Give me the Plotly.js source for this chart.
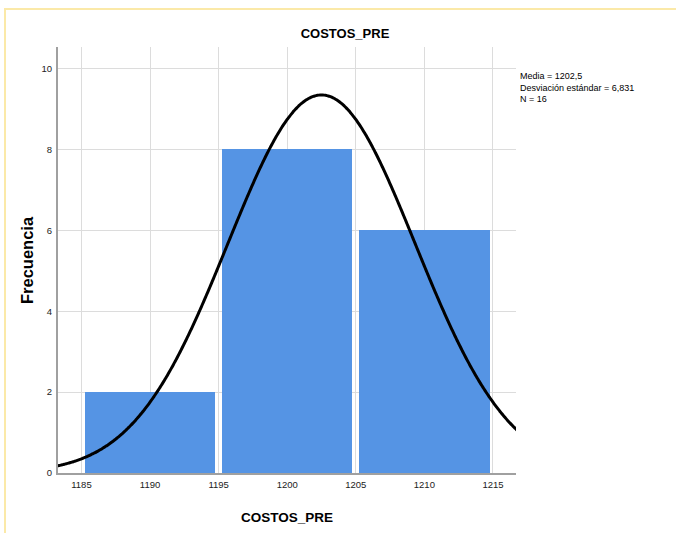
<!DOCTYPE html>
<html>
<head>
<meta charset="utf-8">
<script src="https://cdn.plot.ly/plotly-3.0.1.min.js"></script>
<style>
  html, body { margin: 0; padding: 0; background: #fff; }
  #frame { position: absolute; left: 4px; top: 8px; width: 700px; height: 600px;
           border-top: 2px solid #fbe9a8; border-left: 2px solid #fbe9a8; pointer-events: none; z-index: 5; }
  #chart { width: 676px; height: 533px; }
</style>
</head>
<body>
<div id="chart"></div>
<div id="frame"></div>
<script>
// Data
const binStarts = [1185, 1195, 1205];
const binWidth = 10;
const frequencies = [2, 8, 6];
const xTickVals = [1185, 1190, 1195, 1200, 1205, 1210, 1215];
const yTickVals = [0, 2, 4, 6, 8, 10];
const meanValue = 1202.5;
const stdDev = 6.831;
const nCount = 16;
const statsLines = ["Media = 1202,5", "Desviación estándar = 6,831", "N = 16"];
const chartTitle = "COSTOS_PRE";
const xTitle = "COSTOS_PRE";
const yTitle = "Frecuencia";

const binCenters = binStarts.map(s => s + binWidth / 2);

// Normal curve from the reported statistics
const curveX = [];
const curveY = [];
for (let x = 1180; x <= 1220.001; x += 0.1) {
  const z = (x - meanValue) / stdDev;
  curveX.push(x);
  curveY.push(nCount * binWidth * Math.exp(-0.5 * z * z) / (stdDev * Math.sqrt(2 * Math.PI)));
}

const traces = [
  {
    type: 'bar', x: binCenters, y: frequencies, width: binWidth * 0.95,
    marker: { color: 'rgb(85,148,228)', line: { width: 0 } },
    hoverinfo: 'x+y', showlegend: false
  },
  {
    type: 'scatter', mode: 'lines', x: curveX, y: curveY,
    line: { color: '#000', width: 3, shape: 'spline' },
    hoverinfo: 'skip', showlegend: false, cliponaxis: true
  }
];

const font = '"Liberation Sans", Arial, sans-serif';
const W = 676, H = 533;

const layout = {
  width: W, height: H,
  margin: { l: 58, r: 160, t: 47, b: 60, pad: 0 },
  paper_bgcolor: '#fff', plot_bgcolor: '#fff',
  bargap: 0,
  title: {
    text: '<b>' + chartTitle + '</b>', x: 345 / W, xref: 'container', xanchor: 'center',
    y: 1 - 33 / H, yref: 'container', yanchor: 'middle',
    font: { family: font, size: 13, color: '#000' }
  },
  xaxis: {
    range: [1183.29, 1216.68], tickvals: xTickVals, ticktext: xTickVals.map(String),
    showgrid: true, gridcolor: '#dcdcdc', gridwidth: 1,
    showline: true, linecolor: '#a0a0a0', linewidth: 2, zeroline: false,
    ticks: '', ticklabelstandoff: 2, tickfont: { family: font, size: 9.5, color: '#222' }
  },
  yaxis: {
    range: [0, 10.53], tickvals: yTickVals, ticktext: yTickVals.map(String),
    showgrid: true, gridcolor: '#dcdcdc', gridwidth: 1,
    showline: true, linecolor: '#a0a0a0', linewidth: 2, zeroline: false,
    ticks: '', ticklen: 0, ticklabelstandoff: 2, tickfont: { family: font, size: 9.5, color: '#222' }
  },
  annotations: [
    {
      xref: 'paper', yref: 'paper', x: (518 - 58) / 458, y: 1 - (69 - 47) / 426,
      xanchor: 'left', yanchor: 'top', align: 'left', showarrow: false,
      text: statsLines.join('<br>'),
      font: { family: font, size: 9, color: '#000' }
    },
    {
      xref: 'paper', yref: 'paper', x: (287 - 58) / 458, y: -(517 - 473) / 426,
      xanchor: 'center', yanchor: 'middle', showarrow: false,
      text: '<b>' + xTitle + '</b>', font: { family: font, size: 13.5, color: '#000' }
    },
    {
      xref: 'paper', yref: 'paper', x: -(58 - 27) / 458, y: (473 - 260) / 426,
      xanchor: 'center', yanchor: 'middle', showarrow: false, textangle: -90,
      text: '<b>' + yTitle + '</b>', font: { family: font, size: 16.5, color: '#000' }
    }
  ]
};

Plotly.newPlot('chart', traces, layout, { displayModeBar: false, staticPlot: true });
</script>
</body>
</html>
